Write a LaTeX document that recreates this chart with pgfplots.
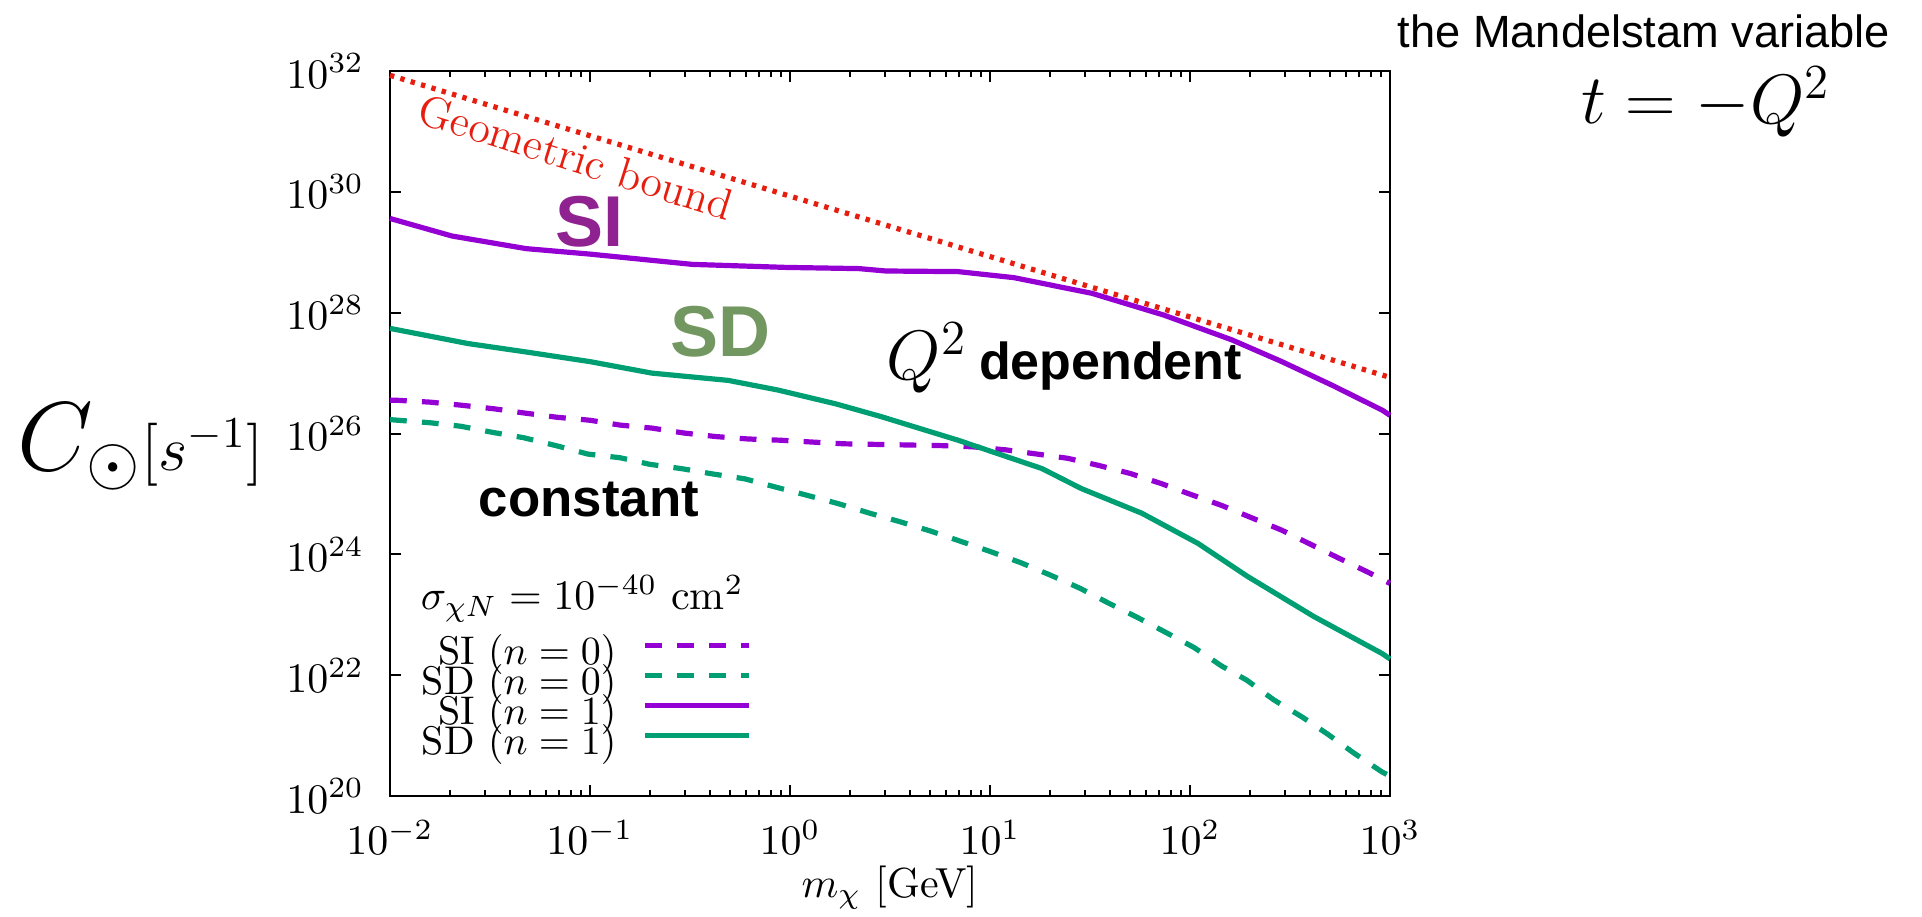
\RequirePackage{fix-cm}
\documentclass[border=0pt]{standalone}
\usepackage{fontspec}
\usepackage{pgfplots}
\pgfplotsset{compat=1.18}
\newfontfamily\hv{Liberation Sans}
\definecolor{siline}{HTML}{9400D3}
\definecolor{sdline}{HTML}{009E73}
\definecolor{geored}{HTML}{E51E10}
\definecolor{silabel}{HTML}{8F2290}
\definecolor{sdlabel}{HTML}{739761}

\begin{document}
\begin{tikzpicture}
\begin{axis}[
    scale only axis, width=250pt, height=181.25pt,
    xmode=log, ymode=log,
    xmin=1e-2, xmax=1e3, ymin=1e20, ymax=1e32,
    xtick={1e-2,1e-1,1,10,100,1000},
    ytick={1e20,1e22,1e24,1e26,1e28,1e30,1e32},
    yminorticks=false,
    tick align=inside, tick pos=both,
    major tick length=2.75pt, minor tick length=1.4pt,
    axis line style={line width=0.5pt},
    every tick/.style={black, line width=0.5pt},
    tick label style={font=\fontsize{10.5}{12}\selectfont},
    yticklabel style={xshift=-3pt},
    xticklabel style={yshift=-2.5pt},
    xlabel={$m_\chi$ [GeV]},
    xlabel style={at={(axis description cs:0.5,-0.14)}, anchor=base,
                  inner sep=0pt, font=\fontsize{10.5}{12}\selectfont},
    ylabel={{\fontsize{24.5}{28}\selectfont$C_{\odot}$}{\fontsize{15.75}{18}\selectfont$[s^{-1}]$}},
    ylabel style={rotate=-90, at={(axis description cs:-0.373,0.4497)},
                  anchor=base west, inner sep=0pt},
    clip=false,
    legend style={draw=none, fill=none, at={(0.032,0.215)}, anchor=north west,
                  inner sep=0pt, outer sep=0pt, column sep=6.5pt, row sep=0pt,
                  font=\fontsize{10}{10}\selectfont,
                  nodes={inner sep=0pt, text height=6pt, text depth=1.5pt}},
    legend cell align=right, legend plot pos=right,
    legend image code/.code={\draw[#1] (0pt,2.4pt) -- (26pt,2.4pt);},
    si0/.style={siline, line width=1.3pt, dash pattern=on 4.2pt off 3.8pt},
    sd0/.style={sdline, line width=1.3pt, dash pattern=on 4.2pt off 3.8pt},
    si1/.style={siline, line width=1.3pt},
    sd1/.style={sdline, line width=1.3pt},
]
% geometric bound
\addplot[geored, line width=1.3pt, dash pattern=on 1.1pt off 1.6pt, forget plot]
    coordinates{(0.01,8.5e31)(1000,8.5e26)};

% SI, n=0
\addplot[si0] coordinates{
    (0.01,3.55e26)(0.01089,3.55e26)(0.01585,3.31e26)(0.02259,2.95e26)
    (0.0331,2.57e26)(0.04677,2.19e26)(0.0684,1.86e26)(0.1,1.66e26)
    (0.1413,1.38e26)(0.2042,1.23e26)(0.2951,1.02e26)(0.4266,8.91e25)
    (0.6166,8.13e25)(0.8913,7.76e25)(1.282,7.24e25)(1.866,6.76e25)
    (2.710,6.61e25)(3.95,6.46e25)(5.70,6.31e25)(8.20,6.03e25)
    (12.0,5.37e25)(17.2,4.57e25)(24.5,3.89e25)(35.2,2.95e25)
    (50.1,2.19e25)(72.1,1.48e25)(97.7,1.02e25)(144,6.46e24)
    (288,2.51e24)(553,8.71e23)(782,5.01e23)(1000,3.31e23)};
\addlegendentry{SI $(n=0)$}

% SD, n=0
\addplot[sd0] coordinates{
    (0.01,1.70e26)(0.01585,1.51e26)(0.02259,1.32e26)(0.03236,1.05e26)
    (0.04677,8.51e25)(0.06761,6.31e25)(0.09772,4.57e25)(0.1413,3.98e25)
    (0.1995,3.09e25)(0.2858,2.63e25)(0.4121,2.14e25)(0.5943,1.78e25)
    (0.8551,1.29e25)(1.211,9.55e24)(1.742,6.92e24)(2.512,4.79e24)
    (3.548,3.47e24)(5.012,2.45e24)(7.079,1.66e24)(10,1.12e24)
    (14.32,7.24e23)(19.95,4.57e23)(28.18,2.75e23)(38.9,1.58e23)
    (54.33,9.12e22)(75.51,5.13e22)(104.7,2.88e22)(144.5,1.41e22)
    (191.9,8.32e21)(263,3.89e21)(363.1,2.04e21)(489.8,1.05e21)
    (660.7,5.13e20)(912,2.51e20)(1000,2.14e20)};
\addlegendentry{SD $(n=0)$}

% SI, n=1
\addplot[si1] coordinates{
    (0.01,3.63e29)(0.0204,1.86e29)(0.0479,1.15e29)(0.1,9.33e28)
    (0.324,6.31e28)(0.955,5.62e28)(2.21,5.37e28)(3.02,4.90e28)
    (6.92,4.79e28)(13.2,3.80e28)(32.4,2.09e28)(74.1,9.12e27)
    (162,3.55e27)(288,1.55e27)(513,6.31e26)(912,2.45e26)(1000,2.0e26)};
\addlegendentry{SI $(n=1)$}

% SD, n=1
\addplot[sd1] coordinates{
    (0.01,5.50e27)(0.0245,3.09e27)(0.0479,2.24e27)(0.1,1.55e27)
    (0.204,1.0e27)(0.49,7.59e26)(0.87,5.25e26)(1.70,3.09e26)
    (2.85,1.91e26)(6.92,7.76e25)(18.2,2.63e25)(28.6,1.23e25)
    (57.5,4.79e24)(110,1.51e24)(195,4.27e23)(417,9.33e22)
    (912,2.29e22)(1000,1.86e22)};
\addlegendentry{SD $(n=1)$}

\node[anchor=base west, inner sep=0pt, font=\fontsize{10.5}{12}\selectfont]
    at (rel axis cs:0.03,0.257) {$\sigma_{\chi N}=10^{-40}~\mathrm{cm}^2$};
\node[rotate=-17.5, text=geored, font=\fontsize{11}{13}\selectfont]
    at (rel axis cs:0.186,0.881) {Geometric bound};
\node[text=silabel, font=\hv\bfseries\fontsize{18}{20}\selectfont]
    at (rel axis cs:0.20,0.792) {SI};
\node[text=sdlabel, font=\hv\bfseries\fontsize{18}{20}\selectfont]
    at (rel axis cs:0.331,0.641) {SD};
\node[anchor=base, font=\hv\bfseries\fontsize{13.2}{15}\selectfont]
    at (rel axis cs:0.199,0.385) {constant};
\node[anchor=base west, inner sep=0pt]
    at (rel axis cs:0.496,0.574)
    {{\fontsize{17.5}{20}\selectfont$Q^2$}\hspace{3pt}{\hv\bfseries\fontsize{13}{15}\selectfont dependent}};

% text beside the axis
\node[anchor=base east, inner sep=0pt, font=\hv\fontsize{11.3}{13}\selectfont]
    at (rel axis cs:1.501,1.032) {the Mandelstam variable};
\node[anchor=base, inner sep=0pt, font=\fontsize{17.5}{20}\selectfont]
    at (rel axis cs:1.316,0.927) {$t=-Q^2$};

% page size
\path (rel axis cs:-0.39,-0.1655) rectangle (rel axis cs:1.532,1.098);
\end{axis}
\end{tikzpicture}
\end{document}
